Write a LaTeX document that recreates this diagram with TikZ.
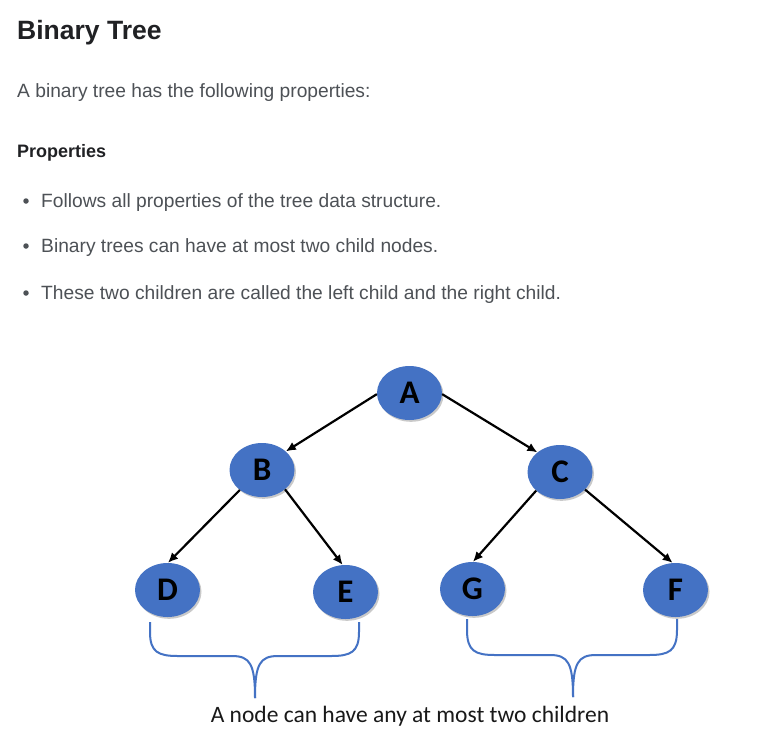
\documentclass[tikz,border=0pt]{standalone}
\usepackage{fontspec}
\setmainfont{Liberation Sans}
\newfontfamily\calfont{Carlito}
\usetikzlibrary{arrows.meta,shapes.geometric,shadows}
\definecolor{titlecol}{HTML}{202124}
\definecolor{bodycol}{HTML}{4D5156}
\definecolor{nodeblue}{HTML}{4472C4}
\definecolor{bracecol}{HTML}{4472C4}
\tikzset{
  treenode/.style={ellipse, fill=nodeblue, minimum width=65pt, minimum height=54pt, inner sep=0pt,
    font=\calfont\bfseries\fontsize{33}{33}\selectfont, text=black,
    drop shadow={shadow xshift=1.5pt, shadow yshift=-1.8pt, opacity=0.35, fill=black!60}},
  edge/.style={-{Latex[length=10pt,width=9pt]}, line width=2.2pt, black},
  brace/.style={draw=bracecol, line width=2pt},
  bodytext/.style={anchor=base west, inner sep=0pt, text=bodycol, font=\fontsize{19.2}{19.2}\selectfont},
  bulletdot/.style={circle, fill=bodycol, inner sep=0pt, minimum size=5.5pt}
}
\begin{document}
\begin{tikzpicture}[x=1pt,y=-1pt]
\useasboundingbox (0,0) rectangle (763,745);
\fill[white] (0,0) rectangle (763,745);
% texts
\node[anchor=base west, inner sep=0pt, text=titlecol, font=\bfseries\fontsize{26.5}{26.5}\selectfont] (title) at (17,39) {Binary Tree};
\node[bodytext] (intro) at (17,97) {A binary tree has the following properties:};
\node[anchor=base west, inner sep=0pt, text=titlecol, font=\bfseries\fontsize{18}{18}\selectfont] (props) at (17,157) {Properties};
\node[bulletdot] (b1) at (26,201) {};
\node[bulletdot] (b2) at (26,246) {};
\node[bulletdot] (b3) at (26,293) {};
\node[bodytext] (l1) at (41,207) {Follows all properties of the tree data structure.};
\node[bodytext] (l2) at (41,252) {Binary trees can have at most two child nodes.};
\node[bodytext] (l3) at (41,299) {These two children are called the left child and the right child.};
% tree
\node[treenode] (A) at (409.5,393) {A};
\node[treenode] (B) at (262,470) {B};
\node[treenode] (C) at (560,472) {C};
\node[treenode] (D) at (167.5,590) {D};
\node[treenode] (E) at (345.5,592) {E};
\node[treenode] (G) at (472.5,589) {G};
\node[treenode] (F) at (675.5,590) {F};
\draw[edge] (A.182) -- (B.38);
\draw[edge] (A.-2) -- (C.139);
\draw[edge] (B.222) -- (D.89);
\draw[edge] (B.320) -- (E.96);
\draw[edge] (C.218) -- (G.89);
\draw[edge] (C.325) -- (F.96);
% braces
\draw[brace] (150,622) -- (150,632) .. controls (150,652) and (158,656) .. (178,656) -- (232,656)
  .. controls (250,656) and (255,664) .. (255,698);
\draw[brace] (359,622) -- (359,632) .. controls (359,652) and (351,656) .. (331,656) -- (278,656)
  .. controls (260,656) and (255,664) .. (255,698);
\draw[brace] (467,619) -- (467,630) .. controls (467,651) and (475,655) .. (495,655) -- (550,655)
  .. controls (568,655) and (573,663) .. (573,697);
\draw[brace] (677,619) -- (677,630) .. controls (677,651) and (669,655) .. (649,655) -- (596,655)
  .. controls (578,655) and (573,663) .. (573,697);
\node[anchor=base, inner sep=0pt, text=black!90, font=\calfont\fontsize{23.5}{23.5}\selectfont] (cap) at (410,722) {A node can have any at most two children};
\end{tikzpicture}
\end{document}
